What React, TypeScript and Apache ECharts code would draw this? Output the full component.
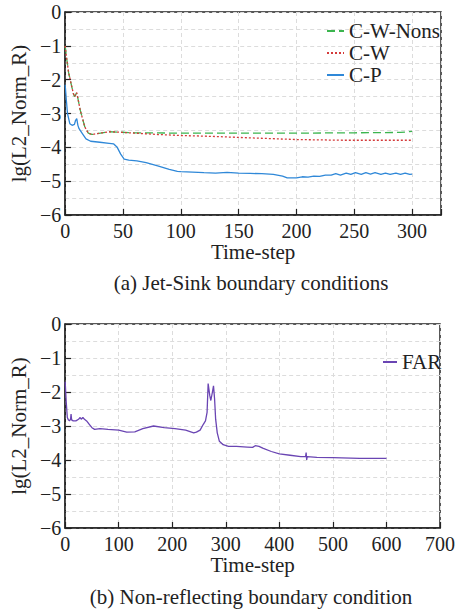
import React, { useEffect, useRef } from "react";
import * as echarts from "echarts";

// ---- Data: (a) Jet-Sink boundary conditions ----
const nonsX = [0, 1, 3, 5, 7, 8, 9, 10, 11, 13, 15, 17, 20, 23, 27, 32, 38, 45, 60, 100, 150, 200, 250, 290, 300];
const nonsY = [-1.0, -1.3, -1.8, -2.1, -2.4, -2.5, -2.45, -2.38, -2.55, -2.9, -3.15, -3.4, -3.58, -3.62, -3.6, -3.57, -3.54, -3.55, -3.57, -3.58, -3.58, -3.58, -3.57, -3.56, -3.53];

const cwX = [0, 1, 3, 5, 7, 8, 9, 10, 11, 13, 15, 17, 20, 23, 27, 32, 38, 45, 50, 60, 80, 100, 130, 160, 200, 240, 300];
const cwY = [-1.0, -1.3, -1.8, -2.1, -2.4, -2.5, -2.45, -2.38, -2.55, -2.9, -3.15, -3.4, -3.58, -3.62, -3.6, -3.57, -3.54, -3.55, -3.56, -3.58, -3.62, -3.65, -3.68, -3.72, -3.77, -3.79, -3.79];

const cpX = [0, 1, 2, 4, 6, 8, 9, 10, 11, 12, 15, 18, 22, 30, 38, 42, 45, 48, 51, 55, 62, 70, 80, 90, 97, 100, 120, 130, 140, 150, 160, 170, 180, 188, 192, 200, 205, 210, 215, 220, 225, 230, 234, 238, 243, 247, 251, 256, 260, 264, 268, 273, 277, 281, 286, 290, 294, 298, 300];
const cpY = [-2.15, -2.6, -3.0, -3.3, -3.35, -3.32, -3.2, -3.15, -3.35, -3.45, -3.6, -3.75, -3.82, -3.85, -3.88, -3.9, -4.0, -4.2, -4.35, -4.38, -4.4, -4.45, -4.55, -4.65, -4.71, -4.72, -4.75, -4.76, -4.74, -4.76, -4.77, -4.78, -4.8, -4.85, -4.9, -4.9, -4.87, -4.88, -4.85, -4.86, -4.82, -4.82, -4.78, -4.82, -4.76, -4.8, -4.75, -4.8, -4.75, -4.79, -4.75, -4.8, -4.76, -4.8, -4.76, -4.8, -4.76, -4.8, -4.79];

// ---- Data: (b) Non-reflecting boundary condition ----
const farX = [0, 2, 4, 6, 8, 10, 11, 12, 15, 20, 25, 28, 30, 33, 36, 40, 45, 50, 55, 65, 80, 100, 115, 130, 145, 165, 185, 205, 225, 240, 245, 252, 258, 262, 265, 267, 270, 272, 275, 277, 279, 281, 284, 288, 295, 305, 320, 340, 350, 355, 362, 370, 385, 400, 420, 440, 449, 450, 451, 452, 470, 500, 550, 600];
const farY = [-1.7, -2.3, -2.75, -2.82, -2.85, -2.8, -2.65, -2.82, -2.85, -2.85, -2.8, -2.75, -2.8, -2.75, -2.8, -2.85, -2.95, -3.05, -3.1, -3.08, -3.1, -3.12, -3.18, -3.17, -3.08, -3.0, -3.05, -3.08, -3.12, -3.2, -3.18, -3.12, -2.95, -2.85, -2.6, -1.75, -2.1, -2.25, -2.0, -1.82, -2.2, -2.8, -3.2, -3.45, -3.55, -3.6, -3.6, -3.62, -3.63, -3.58, -3.6, -3.66, -3.75, -3.82, -3.86, -3.9, -3.9, -3.78, -4.0, -3.9, -3.92, -3.93, -3.95, -3.95];

const topXTicks = { min: 0, max: 325, interval: 50 };
const botXTicks = { min: 0, max: 700, interval: 100 };
const yTicks = { min: -6, max: 0, interval: 1 };

const zip = (xs: number[], ys: number[]) => xs.map((x, i) => [x, ys[i]]);

const FONT = "Liberation Serif";
const INK = "#222";

export default function App() {
  const ref = useRef<HTMLDivElement>(null);
  useEffect(() => {
    if (!ref.current) return;
    const chart = echarts.init(ref.current, null, { renderer: "svg" });

    const mkX = (gridIndex: number, t: { min: number; max: number; interval: number }) => ({
      type: "value",
      gridIndex,
      min: t.min,
      max: t.max,
      interval: t.interval,
      name: "Time-step",
      nameLocation: "middle",
      nameGap: 24,
      nameTextStyle: { fontFamily: FONT, fontSize: 21, color: INK, fontWeight: "normal" },
      axisLine: { show: true, onZero: false, lineStyle: { color: INK, width: 1.5 } },
      axisTick: { show: true, inside: true, length: 6, lineStyle: { color: INK, width: 1.2 } },
      axisLabel: {
        fontFamily: FONT,
        fontSize: 20,
        color: INK,
        margin: 6,
        formatter: (v: number) => (v % t.interval === 0 ? String(v) : ""),
      },
      splitLine: { show: true, lineStyle: { color: "#dcdcdc", type: [4, 3], width: 1 } },
    });

    const mkY = (gridIndex: number) => ({
      type: "value",
      gridIndex,
      min: yTicks.min,
      max: yTicks.max,
      interval: yTicks.interval,
      name: "lg(L2_Norm_R)",
      nameLocation: "middle",
      nameRotate: 90,
      nameGap: 33,
      nameTextStyle: { fontFamily: FONT, fontSize: 21, color: INK, fontWeight: "normal" },
      axisLine: { show: true, onZero: false, lineStyle: { color: INK, width: 1.5 } },
      axisTick: { show: true, inside: true, length: 6, lineStyle: { color: INK, width: 1.2 } },
      axisLabel: {
        fontFamily: FONT,
        fontSize: 20,
        color: INK,
        margin: 4,
        formatter: (v: number) => (v < 0 ? "\u2212" + Math.abs(v) : String(v)),
      },
      minorTick: { show: false, splitNumber: 2 },
      splitLine: { show: true, lineStyle: { color: "#dcdcdc", type: [4, 3], width: 1 } },
      minorSplitLine: { show: true, lineStyle: { color: "#dcdcdc", type: [4, 3], width: 1 } },
    });

    const legendBase = {
      orient: "vertical",
      itemHeight: 1,
      itemGap: 0,
      itemStyle: { opacity: 0 },
      textStyle: { fontFamily: FONT, fontSize: 21, color: INK, lineHeight: 22 },
    };

    chart.setOption({
      animation: false,
      backgroundColor: "#fff",
      textStyle: { fontFamily: FONT },
      grid: [
        { left: 61, top: 12, width: 380, height: 203, show: true, borderColor: INK, borderWidth: 1.5, backgroundColor: "transparent" },
        { left: 61, top: 324, width: 379, height: 204, show: true, borderColor: INK, borderWidth: 1.5, backgroundColor: "transparent" },
      ],
      xAxis: [mkX(0, topXTicks), mkX(1, botXTicks)],
      yAxis: [mkY(0), mkY(1)],
      legend: [
        { ...legendBase, left: 321, top: 15, itemWidth: 17, data: ["C-W-Nons", "C-W", "C-P"] },
        { ...legendBase, left: 377, top: 346, itemWidth: 14, data: ["FAR"] },
      ],
      series: [
        {
          name: "C-W-Nons",
          type: "line",
          xAxisIndex: 0,
          yAxisIndex: 0,
          symbol: "none",
          data: zip(nonsX, nonsY),
          lineStyle: { color: "#3cb54f", width: 1.3, type: [8, 4] },
          itemStyle: { color: "#3cb54f" },
          z: 3,
        },
        {
          name: "C-W",
          type: "line",
          xAxisIndex: 0,
          yAxisIndex: 0,
          symbol: "none",
          data: zip(cwX, cwY),
          lineStyle: { color: "#d43a3a", width: 1.3, type: [2, 2] },
          itemStyle: { color: "#d43a3a" },
          z: 4,
        },
        {
          name: "C-P",
          type: "line",
          xAxisIndex: 0,
          yAxisIndex: 0,
          symbol: "none",
          data: zip(cpX, cpY),
          lineStyle: { color: "#2f88d8", width: 1.3 },
          itemStyle: { color: "#2f88d8" },
        },
        {
          name: "FAR",
          type: "line",
          xAxisIndex: 1,
          yAxisIndex: 1,
          symbol: "none",
          data: zip(farX, farY),
          lineStyle: { color: "#6a45b3", width: 1.3 },
          itemStyle: { color: "#6a45b3" },
        },
      ],
      graphic: [
        {
          type: "text",
          x: 251,
          y: 283,
          style: {
            text: "(a) Jet-Sink boundary conditions",
            fontFamily: FONT,
            fontSize: 21,
            fill: INK,
            textAlign: "center",
            textVerticalAlign: "middle",
          },
        },
        {
          type: "text",
          x: 251,
          y: 597,
          style: {
            text: "(b) Non-reflecting boundary condition",
            fontFamily: FONT,
            fontSize: 21,
            fill: INK,
            textAlign: "center",
            textVerticalAlign: "middle",
          },
        },
      ],
    });
    return () => chart.dispose();
  }, []);
  return (
    <div
      ref={ref}
      style={{ position: "fixed", left: 0, top: 0, width: 459, height: 613, background: "#fff" }}
    />
  );
}
